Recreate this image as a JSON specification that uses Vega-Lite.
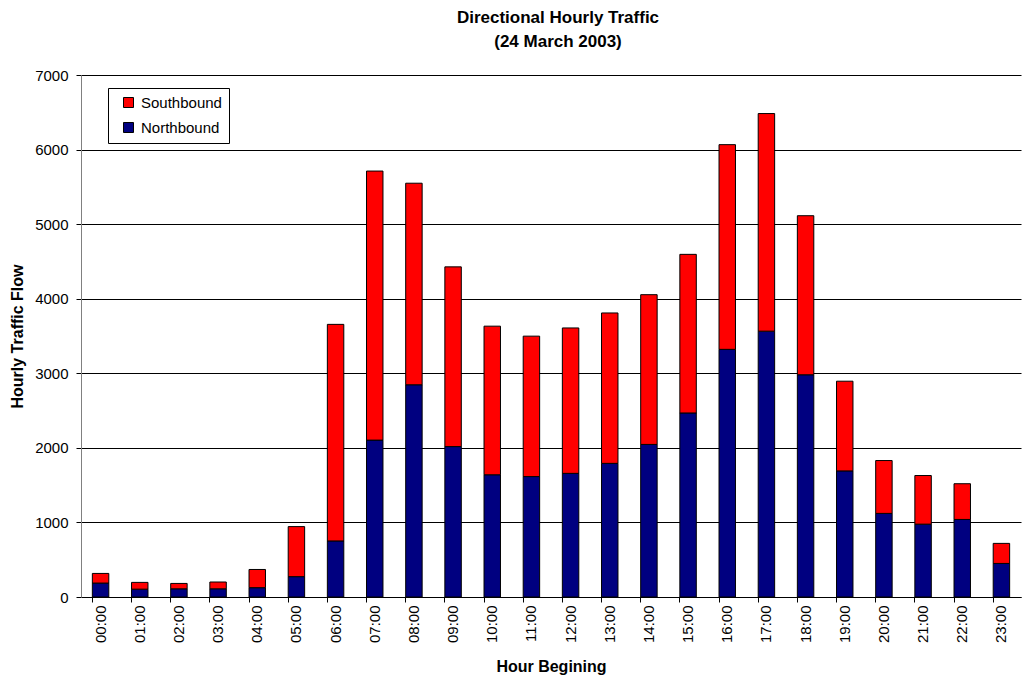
{
  "$schema": "https://vega.github.io/schema/vega-lite/v6.json",
  "width": 940,
  "height": 522,
  "autosize": {"type": "none"},
  "padding": {"left": 81, "top": 75, "right": 3, "bottom": 80},
  "background": "white",
  "config": {
    "font": "Liberation Sans",
    "view": {"stroke": null},
    "axis": {"labelColor": "#000", "titleColor": "#000", "labelFont": "Liberation Sans", "titleFont": "Liberation Sans"}
  },
  "title": {
    "text": ["Directional Hourly Traffic", "(24 March 2003)"],
    "font": "Liberation Sans",
    "fontSize": 17,
    "fontWeight": "bold",
    "color": "#000",
    "anchor": "middle",
    "lineHeight": 24,
    "offset": 17,
    "dx": 7
  },
  "data": {
    "values": [
      {"hour": "00:00", "direction": "Northbound", "flow": 187},
      {"hour": "00:00", "direction": "Southbound", "flow": 129},
      {"hour": "01:00", "direction": "Northbound", "flow": 105},
      {"hour": "01:00", "direction": "Southbound", "flow": 91},
      {"hour": "02:00", "direction": "Northbound", "flow": 110},
      {"hour": "02:00", "direction": "Southbound", "flow": 72},
      {"hour": "03:00", "direction": "Northbound", "flow": 110},
      {"hour": "03:00", "direction": "Southbound", "flow": 91},
      {"hour": "04:00", "direction": "Northbound", "flow": 125},
      {"hour": "04:00", "direction": "Southbound", "flow": 244},
      {"hour": "05:00", "direction": "Northbound", "flow": 273},
      {"hour": "05:00", "direction": "Southbound", "flow": 671},
      {"hour": "06:00", "direction": "Northbound", "flow": 752},
      {"hour": "06:00", "direction": "Southbound", "flow": 2904},
      {"hour": "07:00", "direction": "Northbound", "flow": 2104},
      {"hour": "07:00", "direction": "Southbound", "flow": 3608},
      {"hour": "08:00", "direction": "Northbound", "flow": 2846},
      {"hour": "08:00", "direction": "Southbound", "flow": 2703},
      {"hour": "09:00", "direction": "Northbound", "flow": 2017},
      {"hour": "09:00", "direction": "Southbound", "flow": 2410},
      {"hour": "10:00", "direction": "Northbound", "flow": 1639},
      {"hour": "10:00", "direction": "Southbound", "flow": 1993},
      {"hour": "11:00", "direction": "Northbound", "flow": 1615},
      {"hour": "11:00", "direction": "Southbound", "flow": 1883},
      {"hour": "12:00", "direction": "Northbound", "flow": 1658},
      {"hour": "12:00", "direction": "Southbound", "flow": 1950},
      {"hour": "13:00", "direction": "Northbound", "flow": 1792},
      {"hour": "13:00", "direction": "Southbound", "flow": 2017},
      {"hour": "14:00", "direction": "Northbound", "flow": 2046},
      {"hour": "14:00", "direction": "Southbound", "flow": 2008},
      {"hour": "15:00", "direction": "Northbound", "flow": 2468},
      {"hour": "15:00", "direction": "Southbound", "flow": 2127},
      {"hour": "16:00", "direction": "Northbound", "flow": 3321},
      {"hour": "16:00", "direction": "Southbound", "flow": 2745},
      {"hour": "17:00", "direction": "Northbound", "flow": 3565},
      {"hour": "17:00", "direction": "Southbound", "flow": 2918},
      {"hour": "18:00", "direction": "Northbound", "flow": 2980},
      {"hour": "18:00", "direction": "Southbound", "flow": 2133},
      {"hour": "19:00", "direction": "Northbound", "flow": 1691},
      {"hour": "19:00", "direction": "Southbound", "flow": 1203},
      {"hour": "20:00", "direction": "Northbound", "flow": 1121},
      {"hour": "20:00", "direction": "Southbound", "flow": 709},
      {"hour": "21:00", "direction": "Northbound", "flow": 977},
      {"hour": "21:00", "direction": "Southbound", "flow": 652},
      {"hour": "22:00", "direction": "Northbound", "flow": 1040},
      {"hour": "22:00", "direction": "Southbound", "flow": 479},
      {"hour": "23:00", "direction": "Northbound", "flow": 450},
      {"hour": "23:00", "direction": "Southbound", "flow": 269}
    ]
  },
  "layer": [
    {
      "mark": {"type": "bar", "stroke": "#000", "strokeWidth": 1},
      "encoding": {
        "x": {
          "field": "hour",
          "type": "nominal",
          "sort": null,
          "scale": {"paddingInner": 0.58, "paddingOuter": 0.29},
          "axis": {
            "orient": "bottom",
            "title": "Hour Begining",
            "titleFontSize": 16,
            "titleFontWeight": "bold",
            "titlePadding": 16,
            "labelAngle": -90,
            "labelFontSize": 15,
            "labelPadding": 8,
            "ticks": false,
            "domain": true,
            "domainColor": "#000",
            "domainWidth": 1,
            "grid": false
          }
        },
        "y": {
          "field": "flow",
          "type": "quantitative",
          "aggregate": "sum",
          "stack": "zero",
          "scale": {"domain": [0, 7000], "nice": false},
          "axis": {
            "title": "Hourly Traffic Flow",
            "titleFontSize": 16,
            "titleFontWeight": "bold",
            "titlePadding": 9,
            "values": [0, 1000, 2000, 3000, 4000, 5000, 6000, 7000],
            "format": "d",
            "labelFontSize": 15,
            "labelPadding": 8,
            "tickSize": 5,
            "tickColor": "#000",
            "domainColor": "#808080",
            "grid": true,
            "gridColor": "#000",
            "gridOpacity": 1,
            "gridWidth": 1
          }
        },
        "order": {"field": "direction", "sort": "ascending"},
        "color": {
          "field": "direction",
          "type": "nominal",
          "scale": {"domain": ["Southbound", "Northbound"], "range": ["#FF0000", "#000080"]},
          "legend": {
            "title": null,
            "orient": "none",
            "legendX": 27,
            "legendY": 13,
            "padding": 7,
            "strokeColor": "#000",
            "fillColor": "#fff",
            "symbolType": "square",
            "symbolSize": 100,
            "symbolStrokeColor": "#000",
            "symbolStrokeWidth": 1,
            "symbolOffset": 6,
            "labelFontSize": 15,
            "labelFont": "Liberation Sans",
            "labelColor": "#000",
            "labelOffset": 5,
            "rowPadding": 9
          }
        }
      }
    },
    {
      "mark": {"type": "rule", "opacity": 0},
      "encoding": {
        "x": {
          "field": "hour",
          "type": "nominal",
          "sort": null,
          "axis": {
            "orient": "bottom",
            "title": null,
            "labels": false,
            "domain": false,
            "ticks": true,
            "tickSize": 5,
            "tickColor": "#000",
            "bandPosition": 0,
            "grid": false
          }
        }
      }
    }
  ],
  "resolve": {"axis": {"x": "independent"}}
}
